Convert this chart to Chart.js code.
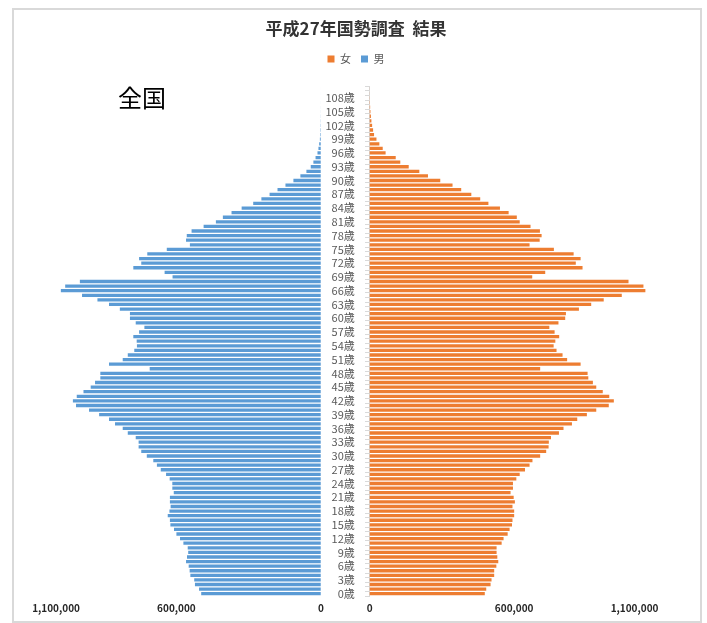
<!DOCTYPE html>
<html lang="ja">
<head>
<meta charset="utf-8">
<title>平成27年国勢調査 結果</title>
<script src="https://cdn.jsdelivr.net/npm/chart.js@4/dist/chart.umd.min.js"></script>
<style>
    html, body { margin: 0; padding: 0; background: #fff; }
    #frame { position: absolute; left: 12px; top: 8px; width: 686px; height: 611px; border: 2px solid #d9d9d9; }
    #chart-box { position: relative; width: 686px; height: 611px; }
    #area-label { position: absolute; left: 104px; top: 75px; font-family: "Noto Sans CJK JP", sans-serif; font-size: 24px; line-height: 1; color: #000; }
</style>
</head>
<body>
<div id="frame">
    <div id="chart-box"><canvas id="chart"></canvas></div>
    <div id="area-label">全国</div>
</div>
<script>
// 年齢別人口 (0歳〜110歳)
const ages = Array.from({ length: 111 }, (_, i) => i);
const ageLabels = ages.map(a => a + '歳');

const male = [
    497000, 506000, 523000, 526000, 542000, 545000, 549000, 560000, 556000, 551000,
    553000, 571000, 585000, 600000, 610000, 625000, 627000, 636000, 629000, 624000,
    627000, 627000, 611000, 617000, 617000, 628000, 643000, 665000, 681000, 696000,
    723000, 746000, 757000, 757000, 769000, 802000, 823000, 855000, 880000, 921000,
    963000, 1017000, 1030000, 1014000, 986000, 956000, 938000, 916000, 916000, 711000,
    880000, 823000, 802000, 775000, 764000, 765000, 779000, 755000, 733000, 769000,
    793000, 793000, 835000, 880000, 928000, 992000, 1080000, 1062000, 1001000, 616000,
    649000, 779000, 746000, 755000, 721000, 640000, 544000, 560000, 557000, 537000,
    487000, 436000, 407000, 371000, 329000, 281000, 247000, 213000, 180000, 147000,
    114000, 85000, 60000, 42000, 31000, 22000, 14000, 10000, 7000, 4000,
    2500, 1800, 1200, 800, 500, 300, 200, 100, 60, 40, 20
];

const female = [
    478000, 484000, 502000, 506000, 517000, 517000, 526000, 534000, 530000, 527000,
    527000, 548000, 556000, 573000, 581000, 591000, 593000, 600000, 600000, 593000,
    603000, 598000, 585000, 595000, 595000, 609000, 623000, 645000, 664000, 676000,
    708000, 733000, 743000, 744000, 753000, 786000, 805000, 840000, 862000, 902000,
    941000, 993000, 1014000, 995000, 968000, 941000, 927000, 908000, 905000, 708000,
    876000, 820000, 801000, 776000, 764000, 771000, 787000, 768000, 746000, 784000,
    812000, 815000, 869000, 920000, 972000, 1047000, 1145000, 1137000, 1075000, 675000,
    729000, 884000, 856000, 876000, 847000, 765000, 664000, 706000, 714000, 707000,
    668000, 623000, 611000, 577000, 541000, 493000, 459000, 422000, 380000, 344000,
    293000, 242000, 206000, 162000, 127000, 108000, 66000, 54000, 40000, 28000,
    18000, 14000, 10000, 7000, 5000, 3000, 1800, 1000, 600, 300, 200
];

// 横軸の目盛
const tickValues = [0, 600000, 1100000];

document.addEventListener('DOMContentLoaded', function() {
    const ctx = document.getElementById('chart').getContext('2d');
    const jpFont = '"Noto Sans CJK JP", sans-serif';

    // 凡例の下に余白を追加
    const legendSpacing = {
        id: 'legendSpacing',
        beforeInit(chart) {
            const originalFit = chart.legend.fit;
            chart.legend.fit = function fit() {
                originalFit.bind(chart.legend)();
                this.height += 12;
            };
        }
    };

    const fixedTicks = function(scale) {
        scale.ticks = tickValues.map(v => ({ value: v }));
    };

    const numberTicks = {
        color: '#262626',
        padding: 6,
        autoSkip: false,
        minRotation: 0,
        maxRotation: 0,
        font: { family: jpFont, size: 10, weight: 'bold' },
        callback: value => value.toLocaleString('en-US')
    };

    new Chart(ctx, {
        type: 'bar',
        data: {
            labels: ageLabels,
            datasets: [{
                label: '女',
                data: female,
                xAxisID: 'xR',
                yAxisID: 'y',
                backgroundColor: '#ED7D31',
                grouped: false,
                barPercentage: 0.72,
                categoryPercentage: 1
            }, {
                label: '男',
                data: male,
                xAxisID: 'xL',
                yAxisID: 'y',
                backgroundColor: '#5B9BD5',
                grouped: false,
                barPercentage: 0.72,
                categoryPercentage: 1
            }]
        },
        options: {
            indexAxis: 'y',
            responsive: true,
            maintainAspectRatio: false,
            animation: false,
            layout: { padding: { left: 30, right: 32, top: 0, bottom: 1 } },
            plugins: {
                title: {
                    display: true,
                    text: '平成27年国勢調査  結果',
                    color: '#333333',
                    font: { family: jpFont, size: 17, weight: 'bold' },
                    padding: { top: 8, bottom: 5 }
                },
                legend: {
                    labels: {
                        boxWidth: 7,
                        boxHeight: 7,
                        color: '#595959',
                        font: { family: jpFont, size: 11 }
                    }
                },
                tooltip: { enabled: false }
            },
            scales: {
                xL: {
                    type: 'linear',
                    axis: 'x',
                    position: 'bottom',
                    stack: 'pyramid',
                    stackWeight: 1150,
                    reverse: true,
                    min: 0,
                    max: 1150000,
                    grid: { display: false, drawTicks: false },
                    border: { display: false },
                    afterBuildTicks: fixedTicks,
                    ticks: numberTicks
                },
                xR: {
                    type: 'linear',
                    axis: 'x',
                    position: 'bottom',
                    stack: 'pyramid',
                    stackWeight: 1442,
                    min: -203000,
                    max: 1239000,
                    grid: { display: false, drawTicks: false },
                    border: { display: false },
                    afterBuildTicks: fixedTicks,
                    ticks: numberTicks
                },
                // 女側の縦軸線と目盛
                y: {
                    type: 'category',
                    axis: 'y',
                    position: { xR: 0 },
                    reverse: true,
                    grid: {
                        drawOnChartArea: false,
                        color: '#d9d9d9',
                        tickLength: 4
                    },
                    border: { color: '#d9d9d9' },
                    ticks: { display: false, autoSkip: false }
                },
                // 中央の年齢ラベル
                yLabels: {
                    type: 'category',
                    axis: 'y',
                    position: { xR: -62000 },
                    reverse: true,
                    offset: true,
                    grid: { display: false, drawTicks: false },
                    border: { display: false },
                    ticks: {
                        autoSkip: false,
                        padding: 0,
                        color: '#595959',
                        font: { family: jpFont, size: 11 },
                        callback: function(value, index) {
                            return index % 3 === 0 ? this.getLabelForValue(value) : '';
                        }
                    }
                }
            }
        },
        plugins: [legendSpacing]
    });
});
</script>
</body>
</html>
